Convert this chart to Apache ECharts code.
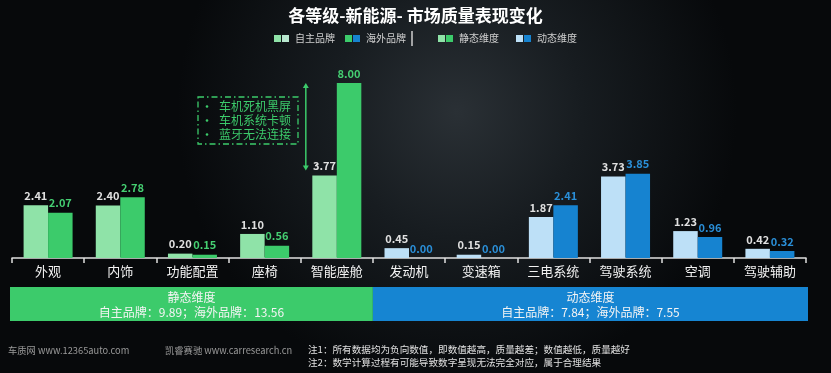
<!DOCTYPE html>
<html>
<head>
<meta charset="utf-8">
<script src="https://cdn.jsdelivr.net/npm/echarts@6/dist/echarts.min.js"></script>
<style>
html,body{margin:0;padding:0;background:#0b0e11;}
#c{width:831px;height:373px;}
</style>
</head>
<body>
<div id="c"></div>
<script>
// ---- data ----
var categories = ['外观','内饰','功能配置','座椅','智能座舱','发动机','变速箱','三电系统','驾驶系统','空调','驾驶辅助'];
var groups = ['static','static','static','static','static','dynamic','dynamic','dynamic','dynamic','dynamic','dynamic'];
var domestic = [2.41, 2.40, 0.20, 1.10, 3.77, 0.45, 0.15, 1.87, 3.73, 1.23, 0.42];   // 自主品牌
var foreign  = [2.07, 2.78, 0.15, 0.56, 8.00, 0.00, 0.00, 2.41, 3.85, 0.96, 0.32];   // 海外品牌
var seriesNames = ['自主品牌','海外品牌'];
var dimNames = ['静态维度','动态维度'];
var dimSummary = ['自主品牌：9.89；海外品牌：13.56', '自主品牌：7.84；海外品牌：7.55'];
var noteItems = ['车机死机黑屏','车机系统卡顿','蓝牙无法连接'];
var title = '各等级-新能源- 市场质量表现变化';
var footLeft = ['车质网 www.12365auto.com','凯睿赛驰 www.carresearch.cn'];
var notes = ['注1：所有数据均为负向数值，即数值越高，质量越差；数值越低，质量越好','注2：数学计算过程有可能导致数字呈现无法完全对应，属于合理结果'];

var C = {
  lightGreen:'#8fe3a8', green:'#3ccb6b', lightBlue:'#bde0f7', blue:'#1683d0',
  greenLabel:'#45cf72', blueLabel:'#2a8fd8'
};
var FONT = '"Noto Sans CJK SC","Noto Sans",sans-serif';

function mk(vals, idx){
  return vals.map(function(v,i){
    var st = groups[i]==='static';
    var col = idx===0 ? (st?C.lightGreen:C.lightBlue) : (st?C.green:C.blue);
    var lc = idx===0 ? '#e0e0e0' : (st?C.greenLabel:C.blueLabel);
    return {value:v, itemStyle:{color:col}, label:{color:lc}};
  });
}

var chart = echarts.init(document.getElementById('c'), null, {renderer:'canvas'});
var option = {
  backgroundColor: {
    type:'radial', x:0.55, y:0.3, r:0.75,
    colorStops:[{offset:0,color:'#2a3035'},{offset:0.45,color:'#171c20'},{offset:1,color:'#07090b'}]
  },
  animation:false,
  textStyle:{fontFamily:FONT},
  grid:{left:12, right:25, top:83, bottom:115},
  xAxis:{
    type:'category', data:categories,
    axisLine:{lineStyle:{color:'#e0e0e0', width:1.5}},
    axisTick:{show:true, length:5, lineStyle:{color:'#e0e0e0', width:1.5}},
    axisLabel:{color:'#f2f2f2', fontSize:13, margin:7, fontFamily:FONT, interval:0}
  },
  yAxis:{type:'value', min:0, max:8, show:false, splitLine:{show:false}},
  series:[
    {name:seriesNames[0], type:'bar', data:mk(domestic,0), barWidth:24.5, barGap:'0%',
     label:{show:true, position:'top', distance:4, fontSize:11, fontWeight:'bold', fontFamily:FONT,
            formatter:function(p){return p.value.toFixed(2);}}},
    {name:seriesNames[1], type:'bar', data:mk(foreign,1), barWidth:24.5, barGap:'0%',
     label:{show:true, position:'top', distance:4, fontSize:11, fontWeight:'bold', fontFamily:FONT,
            formatter:function(p){return p.value.toFixed(2);}}}
  ]
};
chart.setOption(option);

// ---- overlay graphics ----
var g = [];
// title
g.push({type:'text', left:'center', top:7, style:{text:title, fill:'#ffffff', font:'bold 17px '+FONT}});
// legend
var legend = [
  {x:274, cols:[C.lightGreen,'#b8e8cf'], text:seriesNames[0]},
  {x:345, cols:[C.green,C.blue], text:seriesNames[1]},
  {x:438, cols:[C.lightGreen,C.green], text:dimNames[0]},
  {x:516, cols:[C.lightBlue,C.blue], text:dimNames[1]}
];
legend.forEach(function(l){
  g.push({type:'rect', shape:{x:l.x, y:35, width:7, height:7}, style:{fill:l.cols[0]}});
  g.push({type:'rect', shape:{x:l.x+8, y:35, width:7, height:7}, style:{fill:l.cols[1]}});
  g.push({type:'text', x:l.x+21, y:38.5, style:{text:l.text, fill:'#cfcfcf', font:'10px '+FONT, textVerticalAlign:'middle'}});
});
g.push({type:'line', shape:{x1:412, y1:31, x2:412, y2:46}, style:{stroke:'#cfcfcf', lineWidth:1.5}});

// bands bounded by category boundaries
var half = (chart.convertToPixel({xAxisIndex:0}, categories[1]) - chart.convertToPixel({xAxisIndex:0}, categories[0]))/2;
var lastStatic = groups.lastIndexOf('static');
var xSplit = chart.convertToPixel({xAxisIndex:0}, categories[lastStatic]) + half;
var xStart = chart.convertToPixel({xAxisIndex:0}, categories[0]) - half - 2;
var xEnd = chart.convertToPixel({xAxisIndex:0}, categories[categories.length-1]) + half + 2;
[[xStart,xSplit,C.green,0],[xSplit,xEnd,'#1685d2',1]].forEach(function(b){
  g.push({type:'rect', shape:{x:b[0], y:287, width:b[1]-b[0], height:34}, style:{fill:b[2]}});
  var cx = (b[0]+b[1])/2;
  g.push({type:'text', x:cx, y:297, style:{text:dimNames[b[3]], fill:'#f4f4f4', font:'12px '+FONT, textAlign:'center', textVerticalAlign:'middle'}});
  g.push({type:'text', x:cx, y:312, style:{text:dimSummary[b[3]], fill:'#f4f4f4', font:'12px '+FONT, textAlign:'center', textVerticalAlign:'middle'}});
});

// footer
g.push({type:'text', x:8, y:350, style:{text:footLeft[0], fill:'#9a9a9a', font:'9.3px '+FONT, textVerticalAlign:'middle'}});
g.push({type:'text', x:165, y:350, style:{text:footLeft[1], fill:'#9a9a9a', font:'9.3px '+FONT, textVerticalAlign:'middle'}});
g.push({type:'text', x:308, y:349, style:{text:notes[0], fill:'#e0e0e0', font:'9.6px '+FONT, textVerticalAlign:'middle'}});
g.push({type:'text', x:308, y:362, style:{text:notes[1], fill:'#e0e0e0', font:'9.6px '+FONT, textVerticalAlign:'middle'}});

// annotation arrow between 智能座舱 values
var ci = categories.indexOf('智能座舱');
var yTop = chart.convertToPixel({yAxisIndex:0}, foreign[ci]);
var yLow = chart.convertToPixel({yAxisIndex:0}, domestic[ci]) - 5;
var xc = chart.convertToPixel({xAxisIndex:0}, categories[ci]);
var ax = xc - 31;
g.push({type:'line', shape:{x1:ax, y1:yTop+3, x2:ax, y2:yLow-3}, style:{stroke:C.green, lineWidth:1.5}});
g.push({type:'polygon', shape:{points:[[ax-3,yTop+5],[ax+3,yTop+5],[ax,yTop]]}, style:{fill:C.green}});
g.push({type:'polygon', shape:{points:[[ax-3,yLow-5],[ax+3,yLow-5],[ax,yLow]]}, style:{fill:C.green}});
// dashed box
g.push({type:'rect', shape:{x:198, y:97, width:100, height:47}, style:{fill:'none', stroke:C.green, lineWidth:1.3, lineDash:[6,3,1.5,3]}});
noteItems.forEach(function(t,i){
  var yy = 106.5 + i*14;
  g.push({type:'circle', shape:{cx:207, cy:yy, r:1.3}, style:{fill:C.green}});
  g.push({type:'text', x:219, y:yy, style:{text:t, fill:C.green, font:'12px '+FONT, textVerticalAlign:'middle'}});
});

chart.setOption({graphic:g});
</script>
</body>
</html>
